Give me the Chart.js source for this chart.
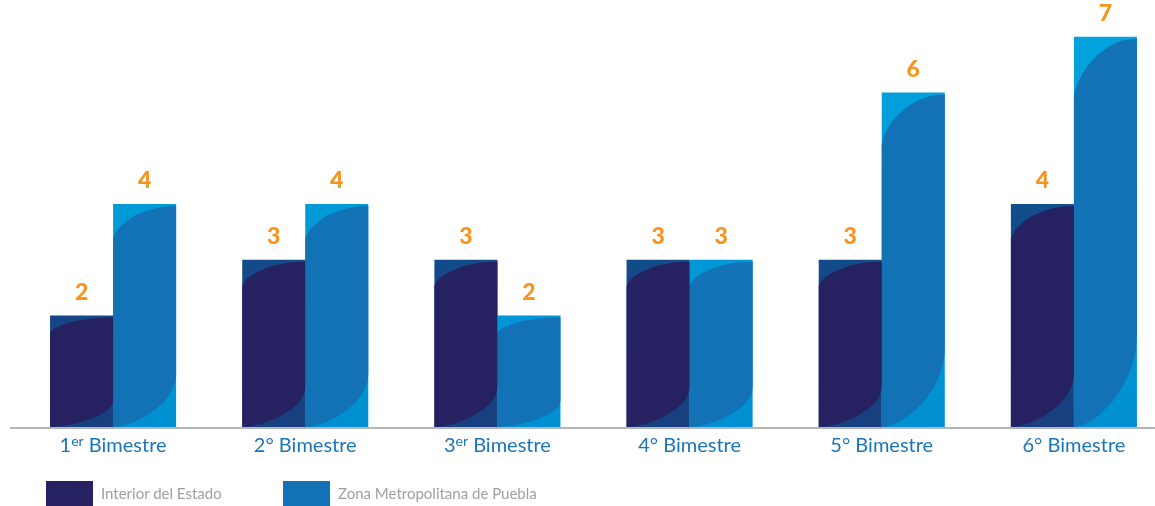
<!DOCTYPE html>
<html>
<head>
<meta charset="utf-8">
<script src="https://cdn.jsdelivr.net/npm/chart.js@4/dist/chart.umd.min.js"></script>
<style>
    html, body { margin: 0; padding: 0; background: #fff; overflow: hidden; }
    #wrap { position: absolute; left: 0; top: 0; width: 1170px; height: 506px; }
    .legend { position: absolute; top: 481px; height: 26px; font-family: Lato, sans-serif; font-size: 15px; color: #a0a0a0; }
    .legend .sw { position: absolute; left: 0; top: 0; width: 47px; height: 26px; }
    .legend .tx { position: absolute; left: 55px; top: 3px; white-space: nowrap; }
</style>
</head>
<body>
<div id="wrap"><canvas id="chart"></canvas></div>
<div id="legend"></div>
<script>
const categories = ['1er Bimestre', '2° Bimestre', '3er Bimestre', '4° Bimestre', '5° Bimestre', '6° Bimestre'];
const seriesNames = ['Interior del Estado', 'Zona Metropolitana de Puebla'];
const interiorValues = [2, 3, 3, 3, 3, 4];
const metroValues = [4, 4, 2, 3, 6, 7];

const baseColors = [['#0b5b97', '#183f80'], ['#02a3de', '#0090d1']];
const overlayColors = ['#262262', '#1372b6'];
const legendLeft = [46, 283];

// curved shading on each bar, drawn from the bar element geometry
const barShading = {
    id: 'barShading',
    afterDatasetDraw(chart, args) {
        const ctx = chart.ctx;
        const i = args.index;
        chart.getDatasetMeta(i).data.forEach(bar => {
            const x0 = bar.x - bar.width / 2, x1 = bar.x + bar.width / 2;
            const top = bar.y, bottom = bar.base, h = bottom - top, w = x1 - x0;
            const c = h * 0.155, c2 = h * 0.24;
            ctx.save();
            ctx.fillStyle = overlayColors[i];
            ctx.beginPath();
            ctx.moveTo(x0, top + c);
            ctx.bezierCurveTo(x0 + w * 0.05, top + c * 0.6, x0 + w * 0.45, top + 2, x1, top + 2);
            ctx.lineTo(x1, bottom - c2);
            ctx.bezierCurveTo(x1, bottom - c2 * 0.4, x1 - w * 0.7, bottom, x0, bottom);
            ctx.closePath();
            ctx.fill();
            ctx.restore();
        });
    }
};

const valueLabels = {
    id: 'valueLabels',
    afterDatasetsDraw(chart) {
        const ctx = chart.ctx;
        ctx.save();
        ctx.font = '900 23px Lato, sans-serif';
        ctx.fillStyle = '#f7941d';
        ctx.textAlign = 'center';
        ctx.textBaseline = 'middle';
        chart.data.datasets.forEach((ds, i) => {
            chart.getDatasetMeta(i).data.forEach((bar, j) => {
                ctx.fillText(String(ds.data[j]), bar.x, bar.y - 23);
            });
        });
        ctx.restore();
    }
};

const axisAndTicks = {
    id: 'axisAndTicks',
    beforeDatasetsDraw(chart) {
        const ctx = chart.ctx;
        const y = chart.chartArea.bottom + 1;
        ctx.save();
        ctx.strokeStyle = '#b5b5b5';
        ctx.lineWidth = 2;
        ctx.beginPath();
        ctx.moveTo(10, y);
        ctx.lineTo(chart.width, y);
        ctx.stroke();
        ctx.restore();
    },
    afterDraw(chart) {
        const ctx = chart.ctx;
        const xs = chart.scales.x;
        const y = chart.chartArea.bottom + 19;
        ctx.save();
        ctx.fillStyle = '#1b75bb';
        ctx.textBaseline = 'middle';
        ctx.textAlign = 'left';
        categories.forEach((label, i) => {
            const m = label.match(/^(\d)(er)?(.*)$/);
            const head = m[1], sup = m[2] || '', rest = m[3];
            ctx.font = '20px Lato, sans-serif';
            const wHead = ctx.measureText(head).width;
            const wRest = ctx.measureText(rest).width;
            ctx.font = '14px Lato, sans-serif';
            const wSup = ctx.measureText(sup).width;
            let x = xs.getPixelForValue(i) - (wHead + wSup + wRest) / 2;
            ctx.font = '20px Lato, sans-serif';
            ctx.fillText(head, x, y);
            x += wHead;
            if (sup) {
                ctx.font = '14px Lato, sans-serif';
                ctx.fillText(sup, x, y - 5);
                x += wSup;
            }
            ctx.font = '20px Lato, sans-serif';
            ctx.fillText(rest, x, y);
        });
        ctx.restore();
    }
};

function makeGradient(chart, stops) {
    const area = chart.chartArea;
    if (!area) return stops[0];
    const g = chart.ctx.createLinearGradient(0, area.top, 0, area.bottom);
    g.addColorStop(0, stops[0]);
    g.addColorStop(1, stops[1]);
    return g;
}

new Chart(document.getElementById('chart'), {
    type: 'bar',
    data: {
        labels: categories,
        datasets: [interiorValues, metroValues].map((values, i) => ({
            label: seriesNames[i],
            data: values,
            backgroundColor: c => makeGradient(c.chart, baseColors[i]),
            borderWidth: 0,
            barPercentage: 1,
            categoryPercentage: 0.656
        }))
    },
    options: {
        responsive: true,
        maintainAspectRatio: false,
        animation: false,
        layout: { padding: { left: 17, right: 0, top: 20, bottom: 79 } },
        scales: {
            x: { display: false },
            y: { display: false, min: 0, max: 7.3 }
        },
        plugins: {
            legend: { display: false },
            tooltip: { enabled: false }
        }
    },
    plugins: [barShading, valueLabels, axisAndTicks]
});

const legendEl = document.getElementById('legend');
seriesNames.forEach((name, i) => {
    const item = document.createElement('div');
    item.className = 'legend';
    item.style.left = legendLeft[i] + 'px';
    item.innerHTML = '<div class="sw" style="background:' + overlayColors[i] + '"></div><div class="tx">' + name + '</div>';
    legendEl.appendChild(item);
});
</script>
</body>
</html>
